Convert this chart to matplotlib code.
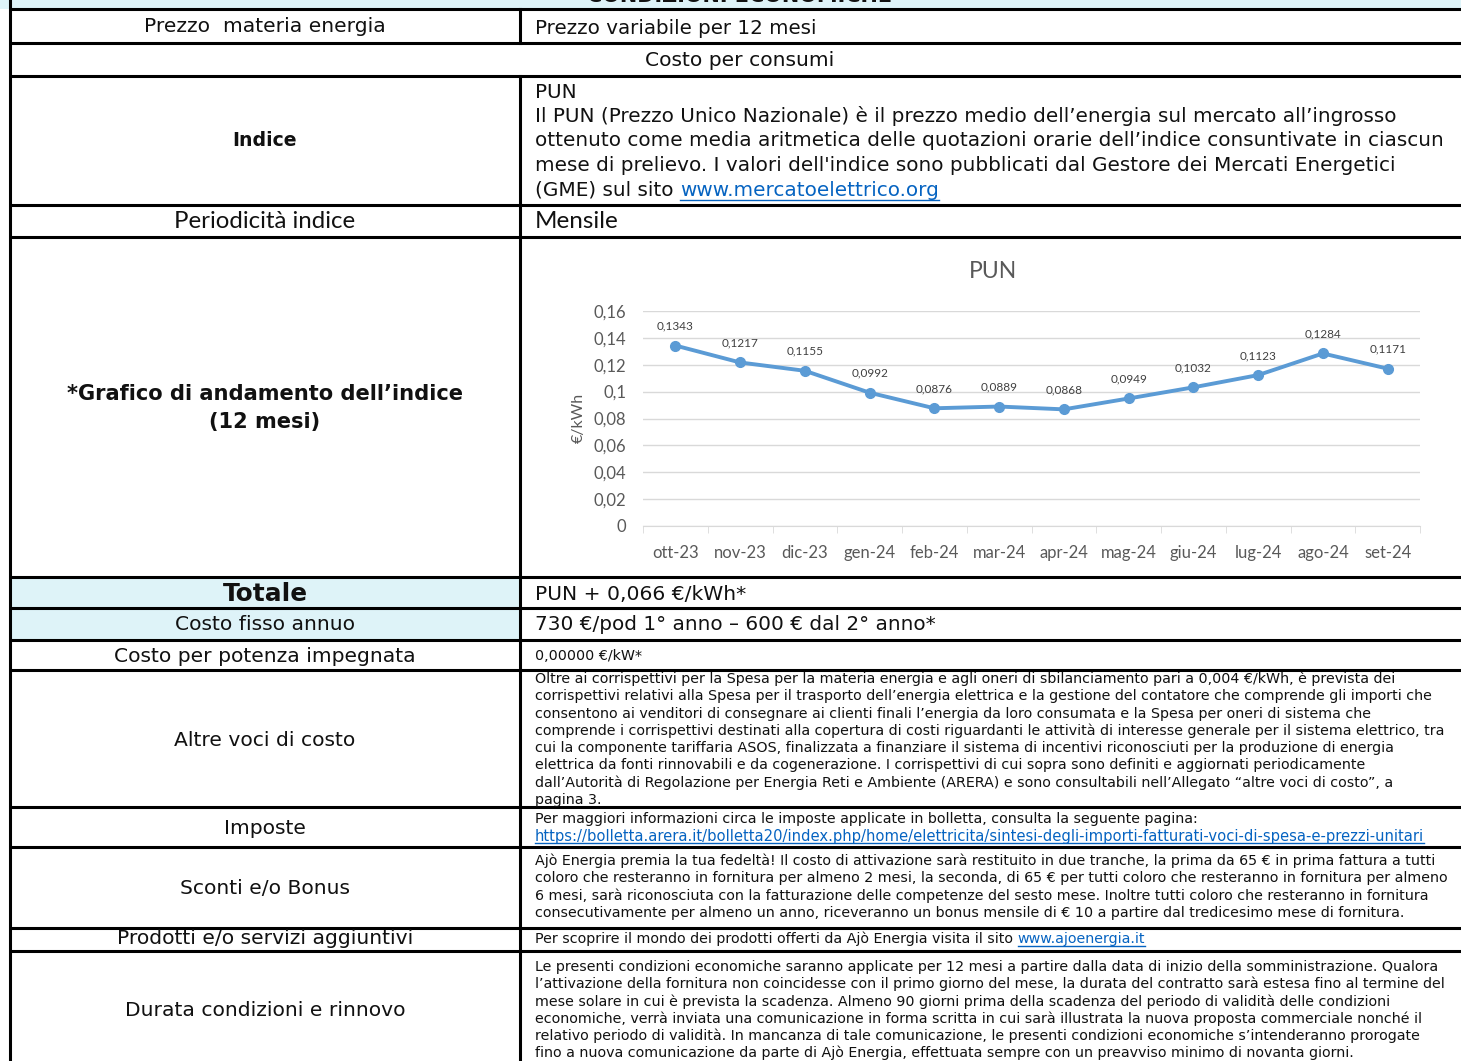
import matplotlib.pyplot as plt
from matplotlib.ticker import FixedLocator

# --- dati del grafico PUN ---
mesi = ['ott-23', 'nov-23', 'dic-23', 'gen-24', 'feb-24', 'mar-24',
        'apr-24', 'mag-24', 'giu-24', 'lug-24', 'ago-24', 'set-24']
pun = [0.1343, 0.1217, 0.1155, 0.0992, 0.0876, 0.0889,
       0.0868, 0.0949, 0.1032, 0.1123, 0.1284, 0.1171]
y_ticks = [0, 0.02, 0.04, 0.06, 0.08, 0.10, 0.12, 0.14, 0.16]

# --- testi della tabella ---
indice_lines = [
    'PUN',
    'Il PUN (Prezzo Unico Nazionale) è il prezzo medio dell\u2019energia sul mercato all\u2019ingrosso',
    'ottenuto come media aritmetica delle quotazioni orarie dell\u2019indice consuntivate in ciascun',
    'mese di prelievo. I valori dell\'indice sono pubblicati dal Gestore dei Mercati Energetici',
]
indice_last = '(GME) sul sito '
link_gme = 'www.mercatoelettrico.org'

altre_lines = [
    'Oltre ai corrispettivi per la Spesa per la materia energia e agli oneri di sbilanciamento pari a 0,004 €/kWh, è prevista dei',
    'corrispettivi relativi alla Spesa per il trasporto dell\u2019energia elettrica e la gestione del contatore che comprende gli importi che',
    'consentono ai venditori di consegnare ai clienti finali l\u2019energia da loro consumata e la Spesa per oneri di sistema che',
    'comprende i corrispettivi destinati alla copertura di costi riguardanti le attività di interesse generale per il sistema elettrico, tra',
    'cui la componente tariffaria ASOS, finalizzata a finanziare il sistema di incentivi riconosciuti per la produzione di energia',
    'elettrica da fonti rinnovabili e da cogenerazione. I corrispettivi di cui sopra sono definiti e aggiornati periodicamente',
    'dall\u2019Autorità di Regolazione per Energia Reti e Ambiente (ARERA) e sono consultabili nell\u2019Allegato \u201caltre voci di costo\u201d, a',
    'pagina 3.',
]
imposte_line = 'Per maggiori informazioni circa le imposte applicate in bolletta, consulta la seguente pagina:'
link_arera = 'https://bolletta.arera.it/bolletta20/index.php/home/elettricita/sintesi-degli-importi-fatturati-voci-di-spesa-e-prezzi-unitari'
sconti_lines = [
    'Ajò Energia premia la tua fedeltà! Il costo di attivazione sarà restituito in due tranche, la prima da 65 € in prima fattura a tutti',
    'coloro che resteranno in fornitura per almeno 2 mesi, la seconda, di 65 € per tutti coloro che resteranno in fornitura per almeno',
    '6 mesi, sarà riconosciuta con la fatturazione delle competenze del sesto mese. Inoltre tutti coloro che resteranno in fornitura',
    'consecutivamente per almeno un anno, riceveranno un bonus mensile di € 10 a partire dal tredicesimo mese di fornitura.',
]
prodotti_line = 'Per scoprire il mondo dei prodotti offerti da Ajò Energia visita il sito '
link_ajo = 'www.ajoenergia.it'
durata_lines = [
    'Le presenti condizioni economiche saranno applicate per 12 mesi a partire dalla data di inizio della somministrazione. Qualora',
    'l\u2019attivazione della fornitura non coincidesse con il primo giorno del mese, la durata del contratto sarà estesa fino al termine del',
    'mese solare in cui è prevista la scadenza. Almeno 90 giorni prima della scadenza del periodo di validità delle condizioni',
    'economiche, verrà inviata una comunicazione in forma scritta in cui sarà illustrata la nuova proposta commerciale nonché il',
    'relativo periodo di validità. In mancanza di tale comunicazione, le presenti condizioni economiche s\u2019intenderanno prorogate',
    'fino a nuova comunicazione da parte di Ajò Energia, effettuata sempre con un preavviso minimo di novanta giorni.',
]

FONT = ['DejaVu Sans']
CAL = ['Lato', 'DejaVu Sans']
INK = '#111111'
LINK = '#0563C1'
AZZURRO = '#DEF3F8'
SMALL = 10.3

W, H = 1461, 1061
fig = plt.figure(figsize=(W / 100, H / 100), dpi=100)
base = fig.add_axes([0, 0, 1, 1])
base.set_xlim(0, W)
base.set_ylim(H, 0)
base.axis('off')

XL, XD = 10, 520       # bordo sinistro, divisore colonne
LX = 265               # centro colonna sinistra
RX = 535               # inizio testo colonna destra

# fondi azzurri
base.fill_between([0, W], 0, 9, color=AZZURRO, lw=0)
base.fill_between([XL, XD], 577, 640, color=AZZURRO, lw=0)

# righe orizzontali
for y in [9, 43, 76, 205, 237, 577, 608, 640, 670, 807, 847, 928, 951]:
    base.plot([XL, W], [y, y], color='black', lw=2.2, solid_capstyle='butt')
base.plot([XL, XL], [0, H], color='black', lw=2.2)
base.plot([XD, XD], [9, 43], color='black', lw=2.2)
base.plot([XD, XD], [76, H], color='black', lw=2.2)

# titolo della tabella, tagliato dal bordo superiore come nell'originale
base.text(740, 2, 'CONDIZIONI ECONOMICHE', fontsize=15, fontweight='bold',
          ha='center', va='baseline', family=FONT, color=INK)


def cell(x, y, s, size=14.6, ha='left', weight='normal', family=FONT, color=INK):
    return base.text(x, y, s, fontsize=size, ha=ha, va='center',
                     fontweight=weight, family=family, color=color)


def lines(txts, y0, step, size=SMALL):
    for i, s in enumerate(txts):
        cell(RX, y0 + i * step, s, size=size)


renderer = fig.canvas.get_renderer()


def link(x, y, s, size, drop):
    t = cell(x, y, s, size=size, color=LINK)
    bb = t.get_window_extent(renderer)
    base.plot([bb.x0, bb.x1], [y + drop, y + drop], color=LINK, lw=1)


def after(t):
    return t.get_window_extent(renderer).x1


# colonna sinistra
cell(LX, 27, 'Prezzo  materia energia', ha='center')
cell(740, 61, 'Costo per consumi', ha='center')
cell(LX, 141, 'Indice', ha='center', size=13.6, weight='bold')
cell(LX, 222, 'Periodicità indice', ha='center', size=17.3, family=CAL)
cell(LX, 394, '*Grafico di andamento dell\u2019indice', ha='center', size=15.1, weight='bold')
cell(LX, 422, '(12 mesi)', ha='center', size=15.1, weight='bold')
cell(LX, 594, 'Totale', ha='center', size=17.8, weight='bold')
cell(LX, 625, 'Costo fisso annuo', ha='center')
cell(LX, 656, 'Costo per potenza impegnata', ha='center')
cell(LX, 740, 'Altre voci di costo', ha='center')
cell(LX, 828, 'Imposte', ha='center')
cell(LX, 888, 'Sconti e/o Bonus', ha='center')
cell(LX, 939, 'Prodotti e/o servizi aggiuntivi', ha='center')
cell(LX, 1010, 'Durata condizioni e rinnovo', ha='center')

# colonna destra
cell(RX, 28, 'Prezzo variabile per 12 mesi', size=14.3)
for i, s in enumerate(indice_lines):
    cell(RX, 92 + i * 24.4, s, size=14.4)
t = cell(RX, 190, indice_last, size=14.4)
link(after(t), 190, link_gme, 14.4, 10)
cell(RX, 222, 'Mensile', size=17.5, family=CAL)
cell(RX, 594, 'PUN + 0,066 €/kWh*', size=14.6)
cell(RX, 625, '730 €/pod 1° anno \u2013 600 € dal 2° anno*', size=14.4)
cell(RX, 656, '0,00000 €/kW*', size=SMALL)
lines(altre_lines, 679, 17.3)
cell(RX, 819, imposte_line, size=SMALL)
link(RX, 836, link_arera, 10.6, 7)
lines(sconti_lines, 861, 17.3)
t = cell(RX, 939, prodotti_line, size=SMALL)
link(after(t), 939, link_ajo, SMALL, 7)
lines(durata_lines, 967, 17.2)

# grafico PUN
GRIGIO = '#595959'
ax = fig.add_axes([643 / W, 1 - 526 / H, (1420 - 643) / W, (526 - 311) / H])
ax.plot(range(len(pun)), pun, color='#5B9BD5', lw=2.8, marker='o', ms=7, zorder=3)
for i, v in enumerate(pun):
    ax.annotate(f'{v:.4f}'.replace('.', ','), (i, v), xytext=(0, 14),
                textcoords='offset points', ha='center', va='center',
                fontsize=8.5, color='#404040', family=CAL)
ax.set_xlim(-0.5, len(pun) - 0.5)
ax.set_ylim(0, 0.16)
ax.set_yticks(y_ticks)
ax.set_yticklabels([f'{v:g}'.replace('.', ',') for v in y_ticks])
ax.set_xticks(range(len(mesi)))
ax.set_xticklabels(mesi)
ax.xaxis.set_minor_locator(FixedLocator([i - 0.5 for i in range(len(mesi) + 1)]))
ax.grid(axis='y', color='#D9D9D9', lw=1)
ax.set_axisbelow(True)
for s in ['left', 'top', 'right']:
    ax.spines[s].set_visible(False)
ax.spines['bottom'].set_color('#D9D9D9')
ax.tick_params(axis='y', length=0, pad=12, labelsize=12, labelcolor=GRIGIO)
ax.tick_params(axis='x', which='major', length=0, pad=14, labelsize=12, labelcolor=GRIGIO)
ax.tick_params(axis='x', which='minor', length=5, color='#D9D9D9')
for lab in ax.get_xticklabels() + ax.get_yticklabels():
    lab.set_family(CAL)
ax.patch.set_alpha(0)

base.text(993, 272, 'PUN', fontsize=16.5, color=GRIGIO, ha='center', va='center', family=CAL)
base.text(579, 418, '€/kWh', fontsize=11.5, color=GRIGIO, ha='center', va='center',
          rotation=90, family=CAL)

fig.savefig('out.png', dpi=100)
